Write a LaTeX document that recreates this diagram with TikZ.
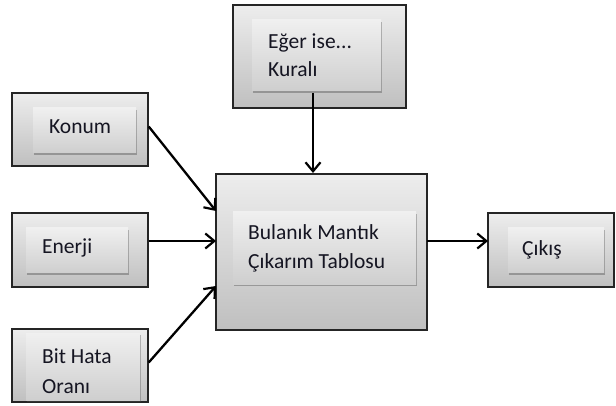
\documentclass[tikz,border=0pt]{standalone}
\usepackage{fontspec}
\setmainfont{Carlito}
\usetikzlibrary{arrows.meta,shadows,calc}
\definecolor{txt}{HTML}{151522}
\definecolor{edge}{HTML}{252525}
\tikzset{
  outerbox/.style={draw=edge, line width=1.4pt, top color=white!93!black, bottom color=white!75!black, inner sep=0pt},
  innerbox/.style={top color=white!94!black, bottom color=white!81!black, inner sep=0pt,
    drop shadow={shadow xshift=1.2pt, shadow yshift=-2.2pt, opacity=0.4, fill=black!70}},
  lbl/.style={anchor=base west, inner sep=0pt, text=txt, font=\fontsize{21.5}{29}\selectfont},
  conn/.style={draw=black, line width=2.3pt, -{Straight Barb[length=9pt,width=15pt,line width=2.2pt]}}
}
\begin{document}
\begin{tikzpicture}[x=1pt,y=-1pt]
\useasboundingbox (0,0) rectangle (616,406);
% outer boxes
\node[outerbox, minimum width=136pt, minimum height=73pt] (konum) at (80,129.5) {};
\node[outerbox, minimum width=136pt, minimum height=74pt] (enerji) at (80,250) {};
\node[outerbox, minimum width=136pt, minimum height=73pt] (bit) at (80,365.5) {};
\node[outerbox, minimum width=173pt, minimum height=103pt] (eger) at (319.5,56.5) {};
\node[outerbox, minimum width=211pt, minimum height=156pt] (center) at (321.5,252) {};
\node[outerbox, minimum width=126pt, minimum height=74pt] (cikis) at (551,250) {};
% inner boxes
\node[innerbox, minimum width=103pt, minimum height=45pt] (konumin) at (84.5,130.5) {};
\node[innerbox, minimum width=102pt, minimum height=45pt] (enerjiin) at (77,250.5) {};
\node[innerbox, minimum width=114pt, minimum height=67pt] (bitin) at (83,366.5) {};
\node[innerbox, minimum width=129pt, minimum height=71pt] (egerin) at (316.5,55.5) {};
\node[innerbox, minimum width=183pt, minimum height=72pt] (centerin) at (324.5,248) {};
\node[innerbox, minimum width=96pt, minimum height=45pt] (cikisin) at (556,250.5) {};
% texts
\node[lbl] (t1) at (49,134) {Konum};
\node[lbl] (t2) at (42,254) {Enerji};
\node[lbl] (t3) at (42,363) {Bit Hata};
\node[lbl] (t4) at (42,393) {Oranı};
\node[lbl] (t5) at (268,49) {Eğer ise...};
\node[lbl] (t6) at (268,77) {Kuralı};
\node[lbl] (t7) at (248,240) {Bulanık Mantık};
\node[lbl] (t8) at (248,269) {Çıkarım Tablosu};
\node[lbl] (t9) at (522,255) {Çıkış};
% connectors
\coordinate (kin) at (216,211);
\coordinate (ein) at (216,241);
\coordinate (bin) at (216,286);
\coordinate (gout) at (313,93);
\coordinate (gin) at (313,173);
\coordinate (cout) at (427,241);
\coordinate (xin) at (488,241);
\draw[conn] (konum.east) ++(0,-3) -- (kin);
\draw[conn] (enerji.east |- ein) -- (ein);
\draw[conn] (bit.east) ++(0,-3) -- (bin);
\draw[conn] (gout) -- (gin);
\draw[conn] (cout) -- (xin);
\end{tikzpicture}
\end{document}
